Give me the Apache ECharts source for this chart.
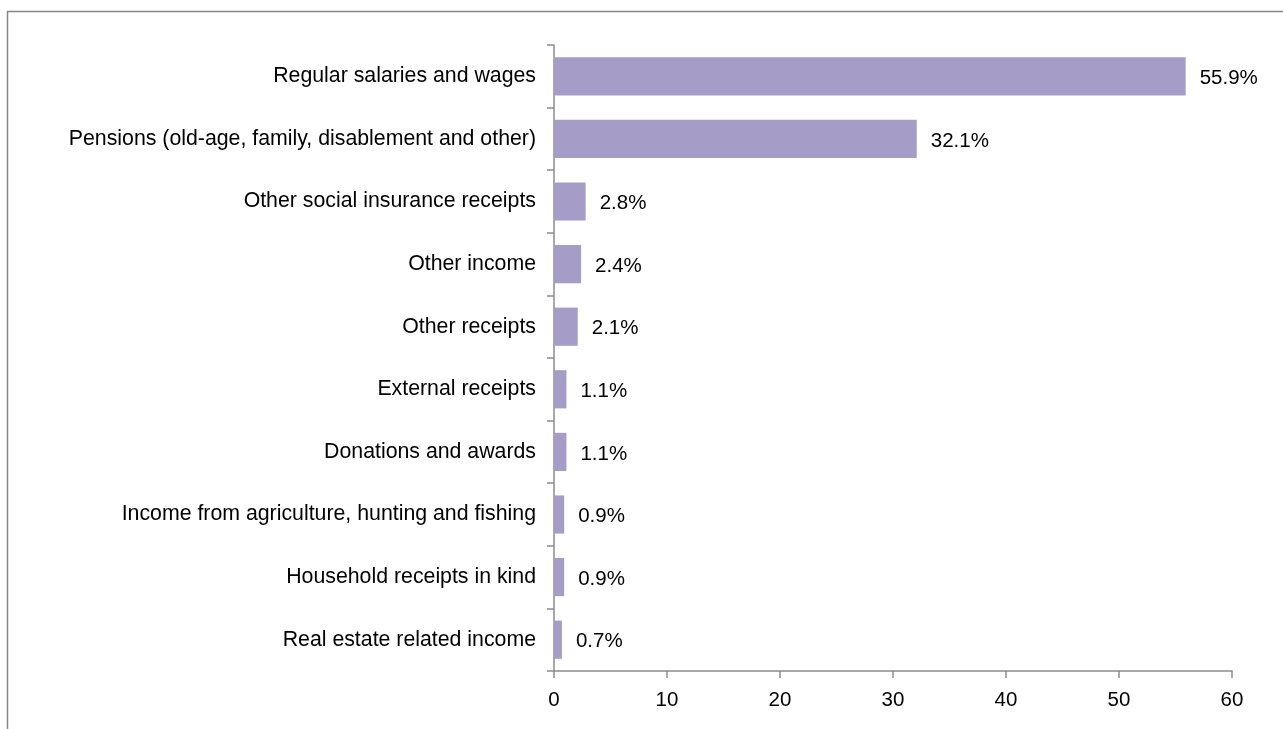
<!DOCTYPE html>
<html>
<head>
<meta charset="utf-8">
<script src="https://cdn.jsdelivr.net/npm/echarts@6/dist/echarts.min.js"></script>
<style>
html,body{margin:0;padding:0;background:#fff;}
#chart{width:1283px;height:729px;}
</style>
</head>
<body>
<div id="chart"></div>
<script>
const categories = [
  "Regular salaries and wages",
  "Pensions (old-age, family, disablement and other)",
  "Other social insurance receipts",
  "Other income",
  "Other receipts",
  "External receipts",
  "Donations and awards",
  "Income from agriculture, hunting and fishing",
  "Household receipts in kind",
  "Real estate related income"
];
const values = [55.9, 32.1, 2.8, 2.4, 2.1, 1.1, 1.1, 0.9, 0.9, 0.7];
const xTicks = [0, 10, 20, 30, 40, 50, 60];

const chart = echarts.init(document.getElementById('chart'), null, {renderer: 'canvas'});
const axisColor = '#8c8c8c';
const font = 'Liberation Sans, Arial, sans-serif';
chart.setOption({
  animation: false,
  backgroundColor: '#fff',
  graphic: [{
    type: 'polyline',
    shape: {points: [[7.5, 729], [7.5, 11.5], [1283, 11.5]]},
    style: {stroke: '#868686', lineWidth: 1.5, fill: null},
    silent: true
  }],
  grid: {left: 554, right: 51, top: 45, bottom: 58, containLabel: false},
  xAxis: {
    type: 'value',
    min: xTicks[0],
    max: xTicks[xTicks.length - 1],
    interval: 10,
    splitLine: {show: false},
    axisLine: {show: true, lineStyle: {color: axisColor, width: 1.5}},
    axisTick: {show: true, length: 7, lineStyle: {color: axisColor, width: 1.5}},
    axisLabel: {color: '#000', fontFamily: font, fontSize: 20.5, margin: 19}
  },
  yAxis: {
    type: 'category',
    inverse: true,
    data: categories,
    axisLine: {show: true, lineStyle: {color: axisColor, width: 1.5}},
    axisTick: {show: true, length: 7, lineStyle: {color: axisColor, width: 1.5}},
    axisLabel: {color: '#000', fontFamily: font, fontSize: 21.3, margin: 18, padding: [4, 0, 0, 0]}
  },
  series: [{
    type: 'bar',
    data: values,
    barCategoryGap: '39%',
    itemStyle: {color: '#a59dc8'},
    label: {
      show: true,
      position: 'right',
      distance: 14,
      offset: [0, 2],
      color: '#000',
      fontFamily: font,
      fontSize: 20.5,
      formatter: p => p.value.toFixed(1) + '%'
    }
  }]
});
</script>
</body>
</html>
